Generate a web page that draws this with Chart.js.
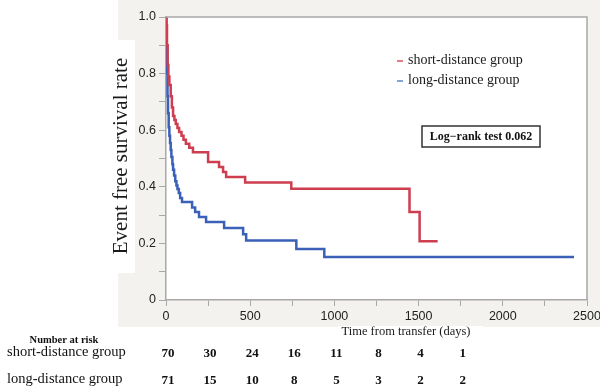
<!DOCTYPE html>
<html>
<head>
<meta charset="utf-8">
<script src="https://cdn.jsdelivr.net/npm/chart.js@4/dist/chart.umd.min.js"></script>
<style>
  html, body { margin: 0; padding: 0; background: #fff; }
  #wrap { position: relative; width: 600px; height: 386px; }
</style>
</head>
<body>
<div id="wrap"><canvas id="km" width="600" height="386"></canvas></div>
<script>
// Kaplan-Meier steps (time in days, survival)
const shortTimes = [0, 3, 6, 10, 14, 20, 28, 35, 42, 50, 58, 68, 78, 92, 104, 118, 138, 160, 250, 315, 339, 357, 470, 744, 1446, 1506, 1613];
const shortSurv  = [1.0, 0.97, 0.90, 0.83, 0.79, 0.76, 0.72, 0.68, 0.65, 0.636, 0.622, 0.608, 0.594, 0.58, 0.566, 0.552, 0.538, 0.522, 0.488, 0.47, 0.452, 0.435, 0.415, 0.393, 0.311, 0.208, 0.208];

const longTimes = [0, 2, 4, 6, 9, 12, 16, 20, 24, 28, 32, 38, 42, 48, 55, 62, 68, 76, 84, 95, 155, 173, 196, 238, 345, 458, 476, 774, 940, 2423];
const longSurv  = [1.0, 0.95, 0.88, 0.80, 0.72, 0.66, 0.61, 0.58, 0.555, 0.53, 0.505, 0.48, 0.46, 0.44, 0.42, 0.405, 0.392, 0.378, 0.36, 0.346, 0.327, 0.311, 0.293, 0.276, 0.254, 0.232, 0.21, 0.18, 0.152, 0.152];

// number at risk table
const riskTimes = [0, 250, 500, 750, 1000, 1250, 1500, 1750];
const riskShort = [70, 30, 24, 16, 11, 8, 4, 1];
const riskLong  = [71, 15, 10, 8, 5, 3, 2, 2];

const groupNames = ["short-distance group", "long-distance group"];
const RED = "#cd3e4e";
const BLUE = "#3a60b8";
const SERIF = "'Liberation Serif', 'DejaVu Serif', serif";
const SANS = "'Liberation Sans', Arial, sans-serif";

function toPoints(xs, ys) {
  return xs.map((x, i) => ({ x: x, y: ys[i] }));
}

/* extra drawing: backgrounds, frame, titles, legend, risk table */
const decor = {
  id: "decor",
  beforeDraw(chart) {
    const ctx = chart.ctx, a = chart.chartArea;
    ctx.save();
    ctx.fillStyle = "#f4f2ee";
    ctx.fillRect(118, 0, 482, 327);
    ctx.fillStyle = "#fff";
    ctx.fillRect(98, 40, 37, 233);
    ctx.fillRect(338, 326, 145, 14);
    ctx.fillRect(a.left, a.top, a.right - a.left, a.bottom - a.top);
    ctx.restore();
  },
  afterDraw(chart) {
    const ctx = chart.ctx, a = chart.chartArea;
    const xs = chart.scales.x;
    ctx.save();

    // top and right frame
    ctx.strokeStyle = "#a8a8a8";
    ctx.lineWidth = 1.5;
    ctx.beginPath();
    ctx.moveTo(a.left, a.top);
    ctx.lineTo(a.right, a.top);
    ctx.lineTo(a.right, a.bottom);
    ctx.stroke();

    // y title
    ctx.fillStyle = "#1a1a1a";
    ctx.font = "21px " + SERIF;
    ctx.textAlign = "center";
    ctx.textBaseline = "middle";
    ctx.translate(121, 156);
    ctx.rotate(-Math.PI / 2);
    ctx.fillText("Event free survival rate", 0, 0);
    ctx.setTransform(1, 0, 0, 1, 0, 0);

    // x title
    ctx.font = "12.5px " + SERIF;
    ctx.fillText("Time from transfer (days)", 406, 332);

    // legend
    ctx.font = "14px " + SERIF;
    ctx.textAlign = "left";
    ctx.fillText(groupNames[0], 408, 60);
    ctx.fillText(groupNames[1], 408, 80);
    ctx.fillStyle = "#e57a82";
    ctx.fillRect(397, 60, 6, 2);
    ctx.fillStyle = "#7ea6d8";
    ctx.fillRect(397, 80, 6, 2);

    // log-rank box
    ctx.strokeStyle = "#333";
    ctx.lineWidth = 1.5;
    ctx.strokeRect(422, 126, 118, 21);
    ctx.fillStyle = "#111";
    ctx.font = "bold 12px " + SERIF;
    ctx.textAlign = "center";
    ctx.fillText("Log\u2212rank test 0.062", 481, 137);

    // number at risk
    ctx.font = "bold 10.5px " + SERIF;
    ctx.fillText("Number at risk", 64, 340);
    ctx.font = "14.5px " + SERIF;
    ctx.textAlign = "left";
    ctx.fillText(groupNames[0], 7, 352);
    ctx.fillText(groupNames[1], 7, 379);
    ctx.font = "bold 13px " + SERIF;
    ctx.textAlign = "center";
    riskTimes.forEach((t, i) => {
      const px = xs.getPixelForValue(t) + 2;
      ctx.fillText(String(riskShort[i]), px, 354);
      ctx.fillText(String(riskLong[i]), px, 381);
    });

    ctx.restore();
  }
};

new Chart(document.getElementById("km"), {
  type: "line",
  data: {
    datasets: [
      { label: groupNames[0], data: toPoints(shortTimes, shortSurv), borderColor: RED },
      { label: groupNames[1], data: toPoints(longTimes, longSurv), borderColor: BLUE }
    ]
  },
  options: {
    responsive: false,
    animation: false,
    events: [],
    layout: { padding: { left: 120, right: 13, top: 17, bottom: 59 } },
    elements: {
      line: { stepped: true, borderWidth: 2.5, fill: false, tension: 0 },
      point: { radius: 0 }
    },
    plugins: { legend: { display: false }, tooltip: { enabled: false } },
    scales: {
      x: {
        type: "linear",
        min: 0,
        max: 2500,
        // let the last tick label run past the edge, like the original
        afterFit: s => { s.height = 27; s.paddingLeft = 0; s.paddingRight = 0; },
        ticks: {
          stepSize: 250,
          autoSkip: false,
          maxRotation: 0,
          padding: 3,
          color: "#222",
          font: { family: SANS, size: 12.5 },
          callback: v => (v % 500 === 0 ? String(v) : "")
        },
        grid: { drawOnChartArea: false, tickLength: 6, color: "#a8a8a8", tickWidth: 1 },
        border: { color: "#a8a8a8", width: 1.5 }
      },
      y: {
        min: 0,
        max: 1,
        afterFit: s => { s.width = 46; s.paddingTop = 0; s.paddingBottom = 0; },
        ticks: {
          stepSize: 0.1,
          autoSkip: false,
          padding: 3,
          color: "#222",
          font: { family: SANS, size: 12.5 },
          callback: v => {
            const k = Math.round(v * 10);
            if (k % 2 !== 0) return "";
            return k === 0 ? "0" : (k / 10).toFixed(1);
          }
        },
        grid: { drawOnChartArea: false, tickLength: 7, color: "#a8a8a8", tickWidth: 1 },
        border: { color: "#a8a8a8", width: 1.5 }
      }
    }
  },
  plugins: [decor]
});
</script>
</body>
</html>
